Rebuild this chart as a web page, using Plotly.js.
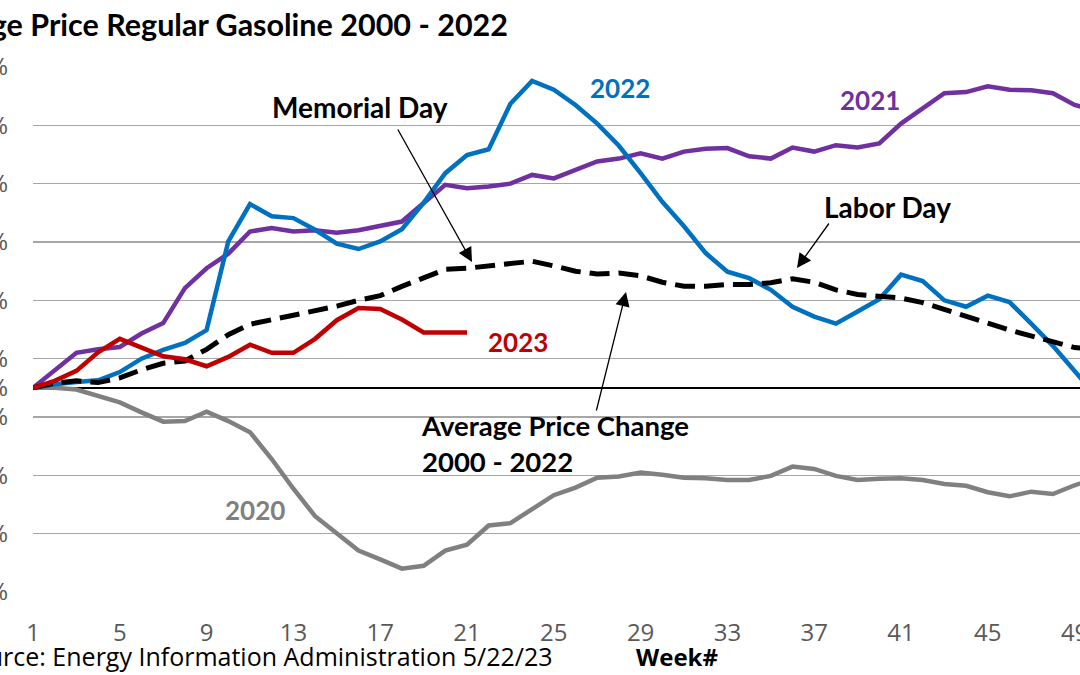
<!DOCTYPE html>
<html>
<head>
<meta charset="utf-8">
<script src="https://cdn.plot.ly/plotly-3.0.1.min.js"></script>
<style>html,body{margin:0;padding:0;background:#fff;}#chart{width:1080px;height:675px;}</style>
</head>
<body>
<div id="chart"></div>
<script>
// Week numbers
const weeks = Array.from({length: 50}, (_, i) => i + 1);
const weeks2023 = weeks.slice(0, 21);

// Percent change in price vs. week 1
const y2020 = [0,0.0,-0.3,-1.4,-2.5,-4.2,-5.8,-5.7,-4.1,-5.7,-7.6,-12.2,-17.3,-22.0,-24.9,-27.9,-29.4,-31.0,-30.5,-27.9,-26.9,-23.6,-23.2,-20.7,-18.4,-17.1,-15.4,-15.2,-14.5,-14.9,-15.4,-15.5,-15.8,-15.8,-15.1,-13.5,-13.9,-15.1,-15.8,-15.6,-15.5,-15.8,-16.5,-16.8,-17.9,-18.6,-17.8,-18.2,-16.7,-15.5];
const y2021 = [0,3.0,6.0,6.6,7.0,9.3,11.1,17.1,20.5,23.0,26.8,27.4,26.8,27.0,26.6,27.0,27.8,28.5,31.7,34.8,34.2,34.5,35.0,36.5,35.9,37.4,38.8,39.3,40.2,39.3,40.5,41.0,41.1,39.7,39.3,41.2,40.5,41.6,41.2,41.9,45.3,47.9,50.5,50.7,51.7,51.1,51.0,50.5,48.5,47.5];
const y2022 = [0,0.6,1.0,1.3,2.7,5.0,6.5,7.7,9.9,25.1,31.5,29.4,29.1,27.1,24.7,23.8,25.1,27.2,31.7,36.8,39.9,40.9,48.7,52.6,51.1,48.5,45.3,41.5,36.8,31.9,27.7,23.1,19.9,18.8,16.8,13.9,12.2,11.0,13.1,15.2,19.4,18.3,15.0,13.9,15.8,14.7,11.0,7.2,2.9,-1.5];
const y2023 = [0,1.2,2.9,6.1,8.4,7.0,5.4,4.9,3.7,5.3,7.4,6.0,6.0,8.4,11.6,13.7,13.5,11.7,9.5,9.5,9.5];
const yAvg = [0,0.8,1.2,0.9,1.7,3.1,4.2,4.6,6.6,9.1,10.9,11.7,12.3,13.1,14.0,15.0,15.8,17.4,18.8,20.3,20.5,20.9,21.4,21.7,20.9,20.0,19.5,19.7,19.2,18.1,17.4,17.4,17.7,17.7,18.0,18.7,18.1,16.8,16.0,15.6,15.4,14.6,13.5,12.4,11.1,9.9,8.9,7.7,6.9,6.6];

// Axis ticks
const xTickVals = [1,5,9,13,17,21,25,29,33,37,41,45,49];
const yTickVals = [-35,-25,-15,-5,0,5,15,25,35,45,55];
const yTickText = yTickVals.map(v => v + '%');

// Layout geometry (pixels)
const W = 1080, H = 675;
const mL = 33, mR = 0, mT = 67, mB = 83;
const weekPx = 21.7;
const xMin = 1, xMax = 1 + (W - mL - mR) / weekPx;
const yMin = -35, yMax = 55;
const plotH = H - mT - mB;
const px2x = px => xMin + (px - mL) / weekPx;
const py2y = py => yMax - (py - mT) * (yMax - yMin) / plotH;

const boldFont = 'Lato, "Open Sans", sans-serif';
const tickFont = '"Open Sans", sans-serif';

const traces = [
  {x: weeks, y: y2020, mode: 'lines', name: '2020', line: {color: '#808080', width: 4.5}},
  {x: weeks, y: y2021, mode: 'lines', name: '2021', line: {color: '#7030A0', width: 4.5}},
  {x: weeks, y: y2022, mode: 'lines', name: '2022', line: {color: '#0070C0', width: 4.5}},
  {x: weeks, y: yAvg, mode: 'lines', name: 'Average Price Change 2000 - 2022', line: {color: '#000000', width: 5, dash: '20px,9px'}},
  {x: weeks2023, y: y2023, mode: 'lines', name: '2023', line: {color: '#C00000', width: 4.5}}
];

function label(text, px, py, color, size, anchor) {
  return {text: text, x: px2x(px), y: py2y(py), xref: 'x', yref: 'y', showarrow: false,
    xanchor: anchor || 'center', yanchor: 'middle', align: 'left',
    font: {family: boldFont, size: size || 28, color: color, weight: 'bold'}};
}
function arrow(tx, ty, hx, hy) {
  return {text: '', x: px2x(hx), y: py2y(hy), ax: px2x(tx), ay: py2y(ty), axref: 'x', ayref: 'y',
    xref: 'x', yref: 'y', showarrow: true, arrowhead: 2, arrowsize: 2.2, arrowwidth: 1.3, arrowcolor: '#000', standoff: 0, startstandoff: 0};
}

const annotations = [
  label('2022', 620, 88, '#0070C0', 26),
  label('2021', 870, 100, '#7030A0', 26),
  label('2023', 518, 342, '#C00000', 26),
  label('2020', 255, 510, '#808080', 26),
  label('Memorial Day', 360, 107, '#000', 28),
  label('Labor Day', 887, 207, '#000', 28),
  label('Average Price Change<br>2000 - 2022', 419, 443, '#000', 27.5, 'left'),
  arrow(397, 128, 472, 262),
  arrow(830, 222, 797, 268),
  arrow(596, 412, 626, 292),
  {text: 'Source: Energy Information Administration 5/22/23', xref: 'paper', yref: 'paper',
    x: (555 - mL) / (W - mL - mR), y: -(656 - (H - mB)) / plotH, xanchor: 'right', yanchor: 'middle',
    showarrow: false, font: {family: tickFont, size: 25, color: '#000'}},
  {text: '<b>Week#</b>', xref: 'paper', yref: 'paper',
    x: (677 - mL) / (W - mL - mR), y: -(656 - (H - mB)) / plotH, xanchor: 'center', yanchor: 'middle',
    showarrow: false, font: {family: tickFont, size: 24, color: '#000'}}
];

const layout = {
  width: W, height: H,
  margin: {l: mL, r: mR, t: mT, b: mB, pad: 0},
  paper_bgcolor: '#fff', plot_bgcolor: '#fff',
  showlegend: false,
  title: {text: '<b>Average Price Regular Gasoline 2000 - 2022</b>', xref: 'container', yref: 'container',
    x: 508 / W, xanchor: 'right', y: 1 - 25 / H, yanchor: 'middle',
    font: {family: boldFont, size: 30.5, color: '#000'}},
  xaxis: {range: [xMin, xMax], tickvals: xTickVals, ticktext: xTickVals.map(String),
    showgrid: false, zeroline: false, showline: false,
    ticks: 'outside', ticklen: 19, tickcolor: 'rgba(0,0,0,0)', ticklabeloverflow: 'allow',
    tickfont: {family: tickFont, size: 24, color: '#595959'}, fixedrange: true},
  yaxis: {range: [yMin, yMax], tickvals: yTickVals, ticktext: yTickText,
    showgrid: true, gridcolor: '#A6A6A6', gridwidth: 1.5,
    zeroline: true, zerolinecolor: '#000', zerolinewidth: 2, showline: false,
    ticks: 'outside', ticklen: 19, tickcolor: 'rgba(0,0,0,0)', ticklabeloverflow: 'allow',
    tickfont: {family: tickFont, size: 24, color: '#595959'}, fixedrange: true},
  annotations: annotations
};

Plotly.newPlot('chart', traces, layout, {displayModeBar: false, staticPlot: true});
</script>
</body>
</html>
